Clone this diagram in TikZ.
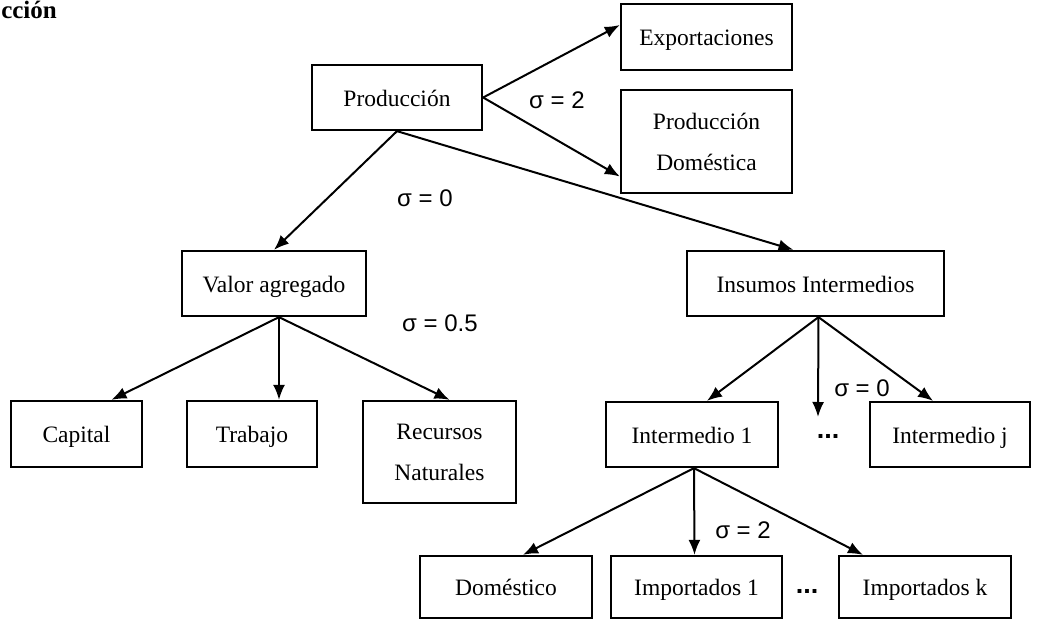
\documentclass[tikz,border=0pt]{standalone}
\usepackage{fontspec}
\setmainfont{Liberation Serif}
\newfontfamily\sigfont{Liberation Sans}
\usetikzlibrary{arrows.meta}
\begin{document}
\begin{tikzpicture}[x=1pt,y=-1pt,
  box/.style={draw,line width=2.3pt,rectangle,inner sep=0pt,align=center,
    font=\fontsize{23.5}{41}\selectfont},
  onebox/.style={box,text height=22pt,text depth=5pt},
  arr/.style={line width=2pt,-{Latex[length=15pt,width=12pt]}},
  sig/.style={font=\sigfont\fontsize{24}{26}\selectfont,inner sep=0pt},
  dots/.style={font=\sigfont\bfseries\fontsize{27}{28}\selectfont,inner sep=0pt}]
\useasboundingbox (0,0) rectangle (1037,621);

\node[anchor=base east,font=\bfseries\fontsize{25}{26}\selectfont,inner sep=0pt] (ttl) at (57,19) {cción};

\node[onebox,minimum width=170pt,minimum height=65pt] (prod) at (397,97.5) {Producción};
\node[onebox,minimum width=171pt,minimum height=66pt] (exp) at (706.5,37) {Exportaciones};
\node[box,minimum width=171pt,minimum height=103pt] (pdom) at (706.5,141.5) {Producción\\Doméstica};
\node[onebox,minimum width=184pt,minimum height=65pt] (va) at (274,283.5) {Valor agregado};
\node[onebox,minimum width=131pt,minimum height=66pt] (cap) at (76.5,434) {Capital};
\node[onebox,minimum width=130pt,minimum height=66pt] (trab) at (252,434) {Trabajo};
\node[box,minimum width=153pt,minimum height=102pt] (rec) at (439.5,452) {Recursos\\Naturales};
\node[onebox,minimum width=257pt,minimum height=65pt] (ins) at (815.5,283.5) {Insumos Intermedios};
\node[onebox,minimum width=172pt,minimum height=65pt] (int1) at (692,434.5) {Intermedio 1};
\node[onebox,minimum width=160pt,minimum height=65pt] (intj) at (950,434.5) {Intermedio j};
\node[onebox,minimum width=172pt,minimum height=62pt] (dom) at (506,587) {Doméstico};
\node[onebox,minimum width=171pt,minimum height=62pt] (imp1) at (696.5,587) {Importados 1};
\node[onebox,minimum width=172pt,minimum height=62pt] (impk) at (925,587) {Importados k};

\coordinate (dd) at (818,417);

\draw[arr] (prod.east) -- ([yshift=12pt]exp.west);
\draw[arr] (prod.east) -- ([yshift=-35pt]pdom.west);
\draw[arr] (prod.south) -- (va.north);
\draw[arr] (prod.south) -- ([xshift=-22pt]ins.north);
\draw[arr] ([xshift=5pt]va.south) -- ([xshift=35pt]cap.north);
\draw[arr] ([xshift=5pt]va.south) -- ([xshift=27pt]trab.north);
\draw[arr] ([xshift=5pt]va.south) -- ([xshift=10pt]rec.north);
\draw[arr] ([xshift=3pt]ins.south) -- ([xshift=15pt]int1.north);
\draw[arr] ([xshift=3pt]ins.south) -- (dd);
\draw[arr] ([xshift=3pt]ins.south) -- ([xshift=-17pt]intj.north);
\draw[arr] ([xshift=2pt]int1.south) -- ([xshift=17pt]dom.north);
\draw[arr] ([xshift=2pt]int1.south) -- ([xshift=-2pt]imp1.north);
\draw[arr] ([xshift=2pt]int1.south) -- ([xshift=-62pt]impk.north);

\node[sig] (s1) at (557,100) {σ = 2};
\node[sig] (s2) at (425,198) {σ = 0};
\node[sig] (s3) at (440,323) {σ = 0.5};
\node[sig] (s4) at (862,388) {σ = 0};
\node[sig] (s5) at (743,530) {σ = 2};

\node[dots] (d1) at (828,436) {...};
\node[dots] (d2) at (807,591) {...};
\end{tikzpicture}
\end{document}
